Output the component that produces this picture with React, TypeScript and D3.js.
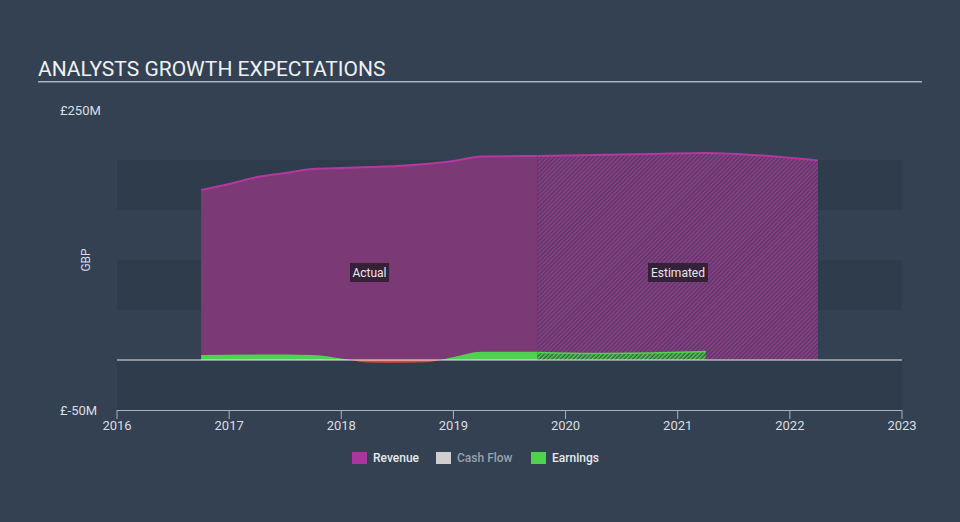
import React from "react";
import * as d3 from "d3";

const yearTicks = [2016, 2017, 2018, 2019, 2020, 2021, 2022, 2023];
const yLabels = ["£250M", "£-50M"];

const revenueActualX = [2016.75, 2017.0, 2017.25, 2017.5, 2017.75, 2018.0, 2018.25, 2018.5, 2018.75, 2019.0, 2019.25, 2019.75];
const revenueActualY = [170, 176, 183, 187, 191, 192, 193, 194, 196, 199, 203.5, 204];
const revenueEstX = [2019.75, 2020.25, 2020.75, 2021.25, 2021.75, 2022.25];
const revenueEstY = [204, 205, 206, 207, 204.5, 199.5];

const earningsActualX = [2016.75, 2017.25, 2017.75, 2018.0, 2018.25, 2018.5, 2018.75, 2019.0, 2019.25, 2019.75];
const earningsActualY = [5, 5.5, 5, 1.5, -2.5, -2.7, -2.3, 3, 8.3, 8.3];
const earningsEstX = [2019.75, 2020.25, 2020.75, 2021.25];
const earningsEstY = [7.5, 6.5, 7, 8.5];

const legendItems = ["Revenue", "Cash Flow", "Earnings"];

const W = 960, H = 522;
const BG = "#334152";
const BAND = "#2e3c4b";
const REV_LINE = "#b5379f";
const REV_FILL = "#7b3a76";
const EARN = "#4fd24f";
const NEG = "#e0463a";

export default function App() {
  const x = d3.scaleLinear().domain([2016, 2023]).range([117, 902]);
  const y = d3.scaleLinear().domain([-50, 250]).range([410, 110]);
  const zero = y(0);

  const pts = (xs: number[], ys: number[]) => xs.map((v, i) => [v, ys[i]] as [number, number]);
  const area = d3.area<[number, number]>().x(d => x(d[0])).y0(zero).y1(d => y(d[1])).curve(d3.curveMonotoneX);
  const line = d3.line<[number, number]>().x(d => x(d[0])).y(d => y(d[1])).curve(d3.curveMonotoneX);

  const revA = pts(revenueActualX, revenueActualY);
  const revE = pts(revenueEstX, revenueEstY);
  const earnA = pts(earningsActualX, earningsActualY);
  const earnE = pts(earningsEstX, earningsEstY);

  const bandRects = [[200, 150], [100, 50], [0, -50]];

  const font = "Roboto, 'Open Sans', sans-serif";
  const legendX = [352, 436, 531];
  const legendColors = ["#a8369e", "#cfcfcf", EARN];

  return (
    <svg width={W} height={H} style={{ position: "absolute", left: 0, top: 0, display: "block" }} fontFamily={font}>
      <defs>
        <pattern id="hatchRev" patternUnits="userSpaceOnUse" width="3" height="3" patternTransform="rotate(45)">
          <rect width="3" height="3" fill="#533a60" />
          <rect width="1.5" height="3" fill="#943d8e" />
        </pattern>
        <pattern id="hatchEarn" patternUnits="userSpaceOnUse" width="3" height="3" patternTransform="rotate(45)">
          <rect width="3" height="3" fill="#3d5a45" />
          <rect width="1.5" height="3" fill={EARN} />
        </pattern>
        <clipPath id="above"><rect x={0} y={0} width={W} height={zero} /></clipPath>
        <clipPath id="below"><rect x={0} y={zero} width={W} height={H - zero} /></clipPath>
      </defs>
      <rect width={W} height={H} fill={BG} />
      {bandRects.map(([a, b], i) => (
        <rect key={i} x={x(2016)} y={y(a)} width={x(2023) - x(2016)} height={y(b) - y(a)} fill={BAND} />
      ))}

      {/* Title */}
      <text x={38} y={76} fontSize={21} fill="#eef1f4">ANALYSTS GROWTH EXPECTATIONS</text>
      <rect x={38} y={81} width={884} height={1.5} fill="#a9b3be" />

      <text x={60} y={115} fontSize={13} fill="#d9dee3">{yLabels[0]}</text>
      <text x={60} y={415} fontSize={13} fill="#d9dee3">{yLabels[1]}</text>
      <text transform={`translate(90,${y(100)}) rotate(-90)`} textAnchor="middle" fontSize={12} fill="#d9dee3">GBP</text>

      {/* Revenue */}
      <path d={area(revA) || ""} fill={REV_FILL} />
      <path d={area(revE) || ""} fill="url(#hatchRev)" />
      <path d={line(revA) || ""} fill="none" stroke={REV_LINE} strokeWidth={2} />
      <path d={line(revE) || ""} fill="none" stroke={REV_LINE} strokeWidth={2} />

      {/* Earnings */}
      <g clipPath="url(#above)">
        <path d={area(earnA) || ""} fill={EARN} />
      </g>
      <g clipPath="url(#below)">
        <path d={area(earnA) || ""} fill={NEG} />
      </g>
      <path d={area(earnE) || ""} fill="url(#hatchEarn)" />
      <path d={line(earnE) || ""} fill="none" stroke={EARN} strokeWidth={1.5} />

      {/* zero line */}
      <line x1={x(2016)} x2={x(2023)} y1={zero} y2={zero} stroke="#e6e9ec" strokeWidth={1.2} />

      {/* x axis */}
      <line x1={x(2016)} x2={x(2023)} y1={410.5} y2={410.5} stroke="#aab3bd" strokeWidth={1} />
      {yearTicks.map(t => (
        <g key={t}>
          <line x1={x(t)} x2={x(t)} y1={410} y2={419} stroke="#aab3bd" />
          <text x={x(t)} y={430} textAnchor="middle" fontSize={13} fill="#d9dee3">{t}</text>
        </g>
      ))}

      {/* labels */}
      <rect x={350} y={263} width={39} height={19} fill="#2a1c2e" opacity={0.85} />
      <text x={369.5} y={277} textAnchor="middle" fontSize={12} fill="#e8e8ea">Actual</text>
      <rect x={648} y={263} width={60} height={19} fill="#2a1c2e" opacity={0.85} />
      <text x={678} y={277} textAnchor="middle" fontSize={12} fill="#e8e8ea">Estimated</text>

      {/* legend */}
      {legendItems.map((name, i) => (
        <g key={name}>
          <rect x={legendX[i]} y={452} width={15} height={12} fill={legendColors[i]} />
          <text x={legendX[i] + 21} y={462} fontSize={12} fontWeight={500} fill={i === 1 ? "#9aa3ad" : "#e6e9ec"}>{name}</text>
        </g>
      ))}
    </svg>
  );
}
